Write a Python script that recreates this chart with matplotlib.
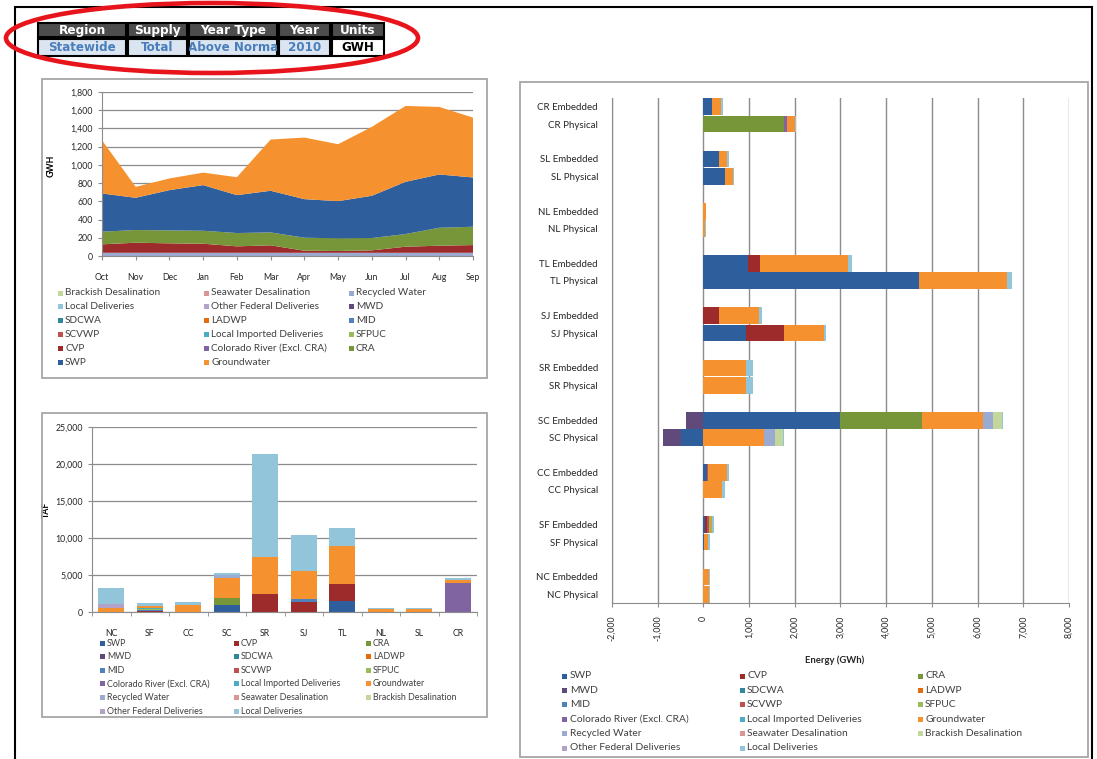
import matplotlib
matplotlib.use("Agg")
import matplotlib.pyplot as plt
from matplotlib.patches import Rectangle, Ellipse
from matplotlib.ticker import FuncFormatter, MultipleLocator
import numpy as np

W, H = 1097, 759
plt.rcParams['font.family'] = ['Lato', 'DejaVu Sans']

# ---- selector table ----
table_headers = ["Region", "Supply", "Year Type", "Year", "Units"]
table_values = ["Statewide", "Total", "Above Norma", "2010", "GWH"]

# ---- monthly energy (GWh), stacked areas ----
months = ["Oct", "Nov", "Dec", "Jan", "Feb", "Mar", "Apr", "May", "Jun", "Jul", "Aug", "Sep"]
month_recycled = [35, 35, 35, 35, 35, 35, 35, 35, 35, 35, 35, 35]
month_cvp = [93, 111, 104, 100, 71, 82, 23, 20, 27, 67, 78, 85]
month_cra = [139, 139, 142, 142, 146, 142, 143, 139, 135, 139, 197, 201]
month_swp = [419, 354, 442, 501, 416, 457, 423, 408, 464, 573, 585, 541]
month_groundwater = [584, 120, 128, 137, 197, 562, 676, 625, 756, 833, 741, 657]

# ---- supply sources and colours ----
sources = ["SWP", "CVP", "CRA", "MWD", "SDCWA", "LADWP", "MID", "SCVWP", "SFPUC",
           "Colorado River (Excl. CRA)", "Local Imported Deliveries", "Groundwater",
           "Recycled Water", "Seawater Desalination", "Brackish Desalination",
           "Other Federal Deliveries", "Local Deliveries"]
source_colors = ["#2F5E9C", "#9E2B2B", "#77963A", "#604A7B", "#31859C", "#E46C0A", "#4F81BD",
                 "#C0504D", "#9BBB59", "#8064A2", "#4BACC6", "#F5912E",
                 "#9AAAD0", "#D99694", "#C3D69B", "#B3A2C7", "#92C5D9"]
area_legend = ["Brackish Desalination", "Seawater Desalination", "Recycled Water",
               "Local Deliveries", "Other Federal Deliveries", "MWD", "SDCWA", "LADWP", "MID",
               "SCVWP", "Local Imported Deliveries", "SFPUC", "CVP",
               "Colorado River (Excl. CRA)", "CRA", "SWP", "Groundwater"]

# ---- supply by region (TAF) ----
regions = ["NC", "SF", "CC", "SC", "SR", "SJ", "TL", "NL", "SL", "CR"]
taf_swp = [0, 0, 0, 1000, 0, 0, 1500, 0, 0, 0]
taf_cvp = [0, 150, 0, 0, 2500, 1400, 2300, 0, 0, 0]
taf_cra = [0, 0, 0, 950, 0, 0, 0, 0, 0, 0]
taf_mid = [0, 100, 0, 0, 0, 300, 0, 0, 0, 0]
taf_sfpuc = [0, 150, 0, 0, 0, 0, 0, 0, 0, 0]
taf_colorado = [0, 0, 0, 0, 0, 0, 0, 0, 0, 3950]
taf_local_imported = [0, 150, 0, 0, 0, 0, 0, 0, 0, 0]
taf_groundwater = [600, 250, 1000, 2650, 4900, 3800, 5100, 350, 400, 350]
taf_recycled = [0, 0, 0, 350, 0, 0, 0, 0, 0, 0]
taf_other_federal = [530, 0, 0, 0, 0, 0, 0, 0, 0, 0]
taf_local = [2120, 350, 350, 350, 14000, 4900, 2400, 250, 150, 350]

# ---- energy by region, physical / embedded (GWh) ----
energy_rows = ["NC Physical", "NC Embedded", "SF Physical", "SF Embedded", "CC Physical",
               "CC Embedded", "SC Physical", "SC Embedded", "SR Physical", "SR Embedded",
               "SJ Physical", "SJ Embedded", "TL Physical", "TL Embedded", "NL Physical",
               "NL Embedded", "SL Physical", "SL Embedded", "CR Physical", "CR Embedded"]
energy_swp = [0, 0, 10, 45, 0, 80, -490, 3000, 0, 0, 935, 0, 4710, 970, 0, 0, 465, 350, 0, 190]
energy_cvp = [0, 0, 0, 35, 0, 0, 0, 0, 0, 0, 825, 350, 0, 260, 0, 0, 0, 0, 0, 0]
energy_cra = [0, 0, 0, 0, 0, 0, 0, 1785, 0, 0, 0, 0, 0, 0, 0, 0, 0, 0, 1770, 0]
energy_mwd = [0, 0, 0, 0, 0, 0, -400, -380, 0, 0, 0, 0, 0, 0, 0, 0, 0, 0, 0, 0]
energy_scvwp = [0, 0, 0, 50, 0, 30, 0, 0, 0, 0, 0, 0, 0, 0, 0, 0, 0, 0, 0, 0]
energy_sfpuc = [0, 0, 0, 30, 0, 0, 0, 0, 0, 0, 0, 0, 0, 0, 0, 0, 0, 0, 0, 0]
energy_colorado = [0, 0, 0, 0, 0, 0, 0, 0, 0, 0, 0, 0, 0, 0, 0, 0, 0, 0, 60, 0]
energy_groundwater = [130, 130, 85, 20, 415, 410, 1335, 1335, 935, 935, 875, 860,
                      1935, 1925, 40, 50, 180, 170, 180, 200]
energy_recycled = [0, 0, 0, 0, 0, 0, 240, 210, 0, 0, 0, 0, 0, 0, 0, 0, 0, 0, 0, 0]
energy_brackish = [0, 0, 0, 0, 0, 0, 170, 205, 0, 0, 0, 0, 0, 0, 0, 0, 0, 0, 0, 0]
energy_local = [15, 15, 55, 60, 50, 40, 10, 20, 145, 145, 50, 75, 110, 95, 8, 10, 30, 35, 20, 40]

color_of = dict(zip(sources, source_colors))
GRID = "#8C8C8C"
TXT = "#404040"

fig = plt.figure(figsize=(W / 100, H / 100), dpi=100)


def px_axes(left, top, right, bottom):
    return fig.add_axes([left / W, 1 - bottom / H, (right - left) / W, (bottom - top) / H])


def px_rect(left, top, right, bottom, **kw):
    r = Rectangle((left / W, 1 - bottom / H), (right - left) / W, (bottom - top) / H,
                  transform=fig.transFigure, **kw)
    fig.add_artist(r)
    return r


def grid_legend(names, cols_x, y0, dy, size):
    # Excel style legend: filled row by row, 3 columns
    for i, name in enumerate(names):
        r, c = divmod(i, 3)
        x, y = cols_x[c], y0 + r * dy
        px_rect(x - 2.5, y - 2.5, x + 2.5, y + 2.5, facecolor=color_of[name], edgecolor="none")
        fig.text((x + 5) / W, 1 - y / H, name, fontsize=size, color=TXT, va="center", ha="left")


def style_axes(ax):
    for s in ["top", "right"]:
        ax.spines[s].set_visible(False)
    for s in ["left", "bottom"]:
        ax.spines[s].set_color(GRID)
    ax.tick_params(colors=GRID, labelcolor="#262626", labelsize=6.3, length=3, width=0.8)
    ax.set_axisbelow(True)


thousands = FuncFormatter(lambda v, p: f"{v:,.0f}")

# outer frame and panel borders
px_rect(15, 7, 1092, 775, fill=False, edgecolor="black", lw=1.5)
px_rect(42, 79, 487, 378, fill=False, edgecolor="#A6A6A6", lw=1.3)
px_rect(42, 413, 487, 717, fill=False, edgecolor="#A6A6A6", lw=1.3)
px_rect(520, 82, 1088, 757, fill=False, edgecolor="#A6A6A6", lw=1.3)

# selector table
col_edges = [(38, 126), (128, 187), (189, 277), (279, 330), (332, 384)]
for i, (l, r) in enumerate(col_edges):
    px_rect(l, 23, r, 37, facecolor="#4D4D4D", edgecolor="black", lw=1.5)
    fig.text((l + r) / 2 / W, 1 - 30.5 / H, table_headers[i], color="white", fontsize=8.7,
             fontweight="bold", family="DejaVu Sans", ha="center", va="center")
    last = i == len(col_edges) - 1
    cell = px_rect(l, 39, r, 56, facecolor="white" if last else "#DBE5F1",
                   edgecolor="black", lw=1.5)
    t = fig.text((l + r) / 2 / W, 1 - 47.5 / H, table_values[i],
                 color="black" if last else "#4A7EBB", fontsize=8.6, fontweight="bold",
                 family="DejaVu Sans", ha="center", va="center")
    t.set_clip_path(cell)

fig.add_artist(Ellipse((212 / W, 1 - 38 / H), 412 / W, 70 / H, transform=fig.transFigure,
                       fill=False, edgecolor="#E8141B", lw=3.3))

# ---- monthly area chart ----
ax1 = px_axes(102, 92, 473, 256)
x = np.arange(len(months))
ax1.stackplot(x, month_recycled, month_cvp, month_cra, month_swp, month_groundwater,
              colors=[color_of["Recycled Water"], color_of["CVP"], color_of["CRA"],
                      color_of["SWP"], color_of["Groundwater"]], linewidth=0)
ax1.set_xlim(0, len(months) - 1)
ax1.set_ylim(0, 1800)
ax1.yaxis.set_major_locator(MultipleLocator(200))
ax1.yaxis.set_major_formatter(thousands)
ax1.set_xticks(x)
ax1.set_xticklabels(months)
ax1.grid(axis="y", color=GRID, lw=0.9)
style_axes(ax1)
ax1.tick_params(axis="x", pad=9)
ax1.set_ylabel("GWH", fontsize=6.3, fontweight="bold")
ax1.yaxis.set_label_coords(-0.125, 0.55)
grid_legend(area_legend, [60, 206, 351], 293, 13.8, 7.2)

# ---- supply by region bar chart ----
ax2 = px_axes(92, 427, 477, 612)
xr = np.arange(len(regions))
taf_series = [("SWP", taf_swp), ("CVP", taf_cvp), ("CRA", taf_cra), ("MID", taf_mid),
              ("SFPUC", taf_sfpuc), ("Colorado River (Excl. CRA)", taf_colorado),
              ("Local Imported Deliveries", taf_local_imported), ("Groundwater", taf_groundwater),
              ("Recycled Water", taf_recycled), ("Other Federal Deliveries", taf_other_federal),
              ("Local Deliveries", taf_local)]
bottom = np.zeros(len(regions))
for name, vals in taf_series:
    ax2.bar(xr, vals, 0.68, bottom=bottom, color=color_of[name], linewidth=0)
    bottom += np.array(vals)
ax2.set_xlim(-0.5, len(regions) - 0.5)
ax2.set_ylim(0, 25000)
ax2.yaxis.set_major_locator(MultipleLocator(5000))
ax2.yaxis.set_major_formatter(thousands)
ax2.set_xticks(xr)
ax2.set_xticklabels(regions)
ax2.set_xticks(np.arange(len(regions) + 1) - 0.5, minor=True)
ax2.grid(axis="y", color=GRID, lw=0.9)
style_axes(ax2)
ax2.tick_params(axis="x", which="major", length=0, pad=12)
ax2.tick_params(axis="x", which="minor", length=3, color=GRID)
ax2.set_ylabel("TAF", fontsize=6.3, fontweight="bold")
ax2.yaxis.set_label_coords(-0.108, 0.55)
grid_legend(sources, [102, 236, 368], 643, 13.6, 6.4)

# ---- energy by region, horizontal stacked bars ----
ax3 = px_axes(612, 98, 1069, 603)
ypos = np.array([(i // 2) * 3 + i % 2 for i in range(len(energy_rows))])
energy_series = [("SWP", energy_swp), ("CVP", energy_cvp), ("CRA", energy_cra),
                 ("MWD", energy_mwd), ("SCVWP", energy_scvwp), ("SFPUC", energy_sfpuc),
                 ("Colorado River (Excl. CRA)", energy_colorado),
                 ("Groundwater", energy_groundwater), ("Recycled Water", energy_recycled),
                 ("Brackish Desalination", energy_brackish), ("Local Deliveries", energy_local)]
pos = np.zeros(len(energy_rows))
neg = np.zeros(len(energy_rows))
for name, vals in energy_series:
    v = np.array(vals, dtype=float)
    left = np.where(v >= 0, pos, neg)
    ax3.barh(ypos, v, 0.96, left=left, color=color_of[name], linewidth=0)
    pos += np.clip(v, 0, None)
    neg += np.clip(v, None, 0)
ax3.set_ylim(-0.5, ypos.max() + 0.5)
ax3.set_xlim(-2000, 8000)
ax3.xaxis.set_major_locator(MultipleLocator(1000))
ax3.xaxis.set_major_formatter(thousands)
ax3.set_yticks(ypos)
ax3.set_yticklabels(energy_rows)
ax3.grid(axis="x", color=GRID, lw=1.0)
style_axes(ax3)
ax3.tick_params(axis="y", length=0, labelsize=7.0, pad=10)
ax3.tick_params(axis="x", rotation=90, pad=6)
fig.text(835 / W, 1 - 660 / H, "Energy (GWh)", fontsize=6.8, fontweight="bold",
         color="#262626", ha="center", va="center")
grid_legend(sources, [565, 742, 920], 676, 14.4, 7.4)

fig.savefig("out.png", dpi=100)
